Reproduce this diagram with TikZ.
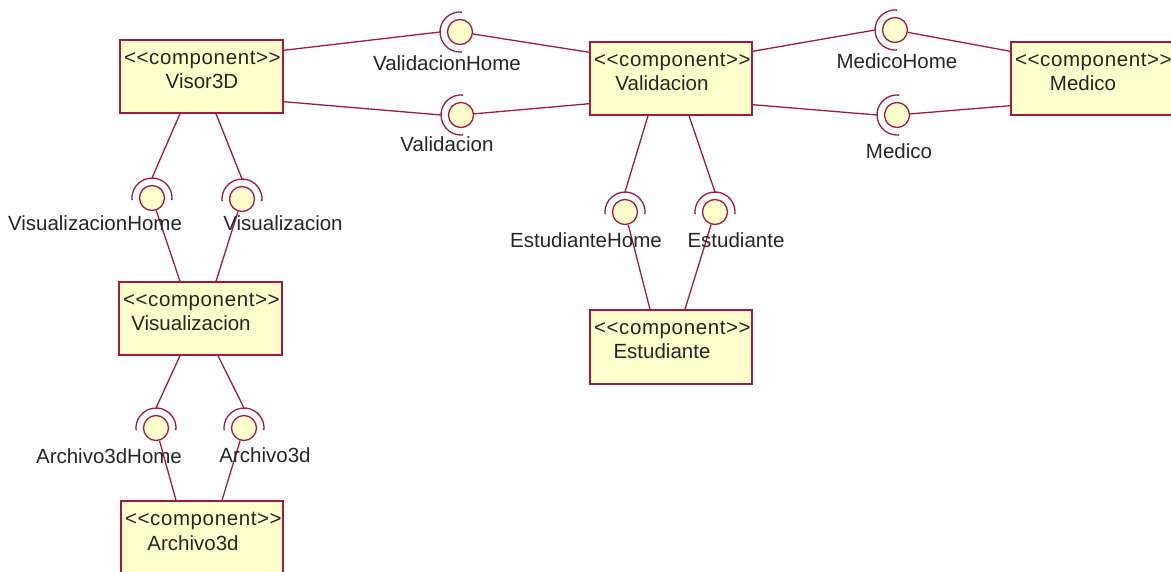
\documentclass[tikz,border=0pt]{standalone}
\usepackage{fontspec}
\newfontfamily\umlfont{Liberation Sans}
\newfontfamily\stereofont[LetterSpace=3]{Liberation Sans}
\usetikzlibrary{calc}
\definecolor{umlline}{RGB}{165,25,65}
\definecolor{umlfill}{RGB}{255,255,204}

% socket (required interface half-circle) around a ball node:
% #1 ball node, #2 direction the socket faces, #3 name of the socket apex
\newcommand\umlsocket[3]{%
  \draw[wire] ($(#1)+(#2-96:20)$) arc[start angle=#2-96, end angle=#2+96, radius=20];
  \coordinate (#3) at ($(#1)+(#2:20)$);}

\begin{document}
\begin{tikzpicture}[x=1pt,y=1pt,
  every node/.style={font=\umlfont\fontsize{20.5}{24}\selectfont, text=black!85},
  wire/.style={draw=umlline, line width=1.3pt},
  comp/.style={draw=umlline, fill=umlfill, line width=1.4pt, inner sep=0pt},
  ball/.style={circle, draw=umlline, fill=umlfill, line width=1.3pt, inner sep=0pt, minimum size=25pt},
  stereo/.style={anchor=base west, inner sep=0pt, font=\stereofont\fontsize{20.5}{24}\selectfont},
  cname/.style={anchor=base, inner sep=0pt},
  ilabel/.style={anchor=base, inner sep=0pt}]
\useasboundingbox (0,0) rectangle (1171,571);
\clip (0,0) rectangle (1171,571);

% components
\node[comp, minimum width=163pt, minimum height=73pt] (visor)   at (201.5,494.5) {};
\node[comp, minimum width=162pt, minimum height=73pt] (valid)   at (671,492.5) {};
\node[comp, minimum width=169pt, minimum height=73pt] (medico)  at (1095.5,492.5) {};
\node[comp, minimum width=163pt, minimum height=73pt] (visual)  at (200.5,252.5) {};
\node[comp, minimum width=162pt, minimum height=74pt] (estud)   at (671,224) {};
\node[comp, minimum width=162pt, minimum height=79pt] (archivo) at (202,30.5) {};

\foreach \c in {visor,valid,medico,visual,estud,archivo}
  \node[stereo] (\c-st) at ($(\c.north west)+(4.5,-25)$) {<<component>>};

\node[cname] (visor-nm)   at (202,482)  {Visor3D};
\node[cname] (valid-nm)   at (662,480)  {Validacion};
\node[cname] (medico-nm)  at (1083,480) {Medico};
\node[cname] (visual-nm)  at (191,240)  {Visualizacion};
\node[cname] (estud-nm)   at (662,212)  {Estudiante};
\node[cname] (archivo-nm) at (193,21)   {Archivo3d};

% provided interfaces (balls)
\node[ball] (bVH)  at (460,539) {};
\node[ball] (bV)   at (461,456) {};
\node[ball] (bMH)  at (895,541) {};
\node[ball] (bM)   at (897,456) {};
\node[ball] (bVzH) at (152,373) {};
\node[ball] (bVz)  at (242,372) {};
\node[ball] (bAH)  at (156,143) {};
\node[ball] (bA)   at (244,143) {};
\node[ball] (bEH)  at (625,359) {};
\node[ball] (bE)   at (715,359) {};

% required interfaces (sockets)
\umlsocket{bVH}{180}{sVH}
\umlsocket{bV}{180}{sV}
\umlsocket{bMH}{180}{sMH}
\umlsocket{bM}{180}{sM}
\umlsocket{bVzH}{90}{sVzH}
\umlsocket{bVz}{90}{sVz}
\umlsocket{bAH}{90}{sAH}
\umlsocket{bA}{90}{sA}
\umlsocket{bEH}{90}{sEH}
\umlsocket{bE}{90}{sE}

% connectors: requiring component -> socket, ball -> providing component
\draw[wire] ([yshift=-11pt]visor.north east) -- (sVH);
\draw[wire] (bVH) -- ([yshift=-11pt]valid.north west);
\draw[wire] ([yshift=12pt]visor.south east) -- (sV);
\draw[wire] (bV) -- ([yshift=12pt]valid.south west);
\draw[wire] ([yshift=-10pt]valid.north east) -- (sMH);
\draw[wire] (bMH) -- ([yshift=-10pt]medico.north west);
\draw[wire] ([yshift=11pt]valid.south east) -- (sM);
\draw[wire] (bM) -- ([yshift=10pt]medico.south west);

\draw[wire] ([xshift=-21.5pt]visor.south) -- (sVzH);
\draw[wire] (bVzH) -- ([xshift=-20.5pt]visual.north);
\draw[wire] ([xshift=14.5pt]visor.south) -- (sVz);
\draw[wire] (bVz) -- ([xshift=15.5pt]visual.north);

\draw[wire] ([xshift=-20.5pt]visual.south) -- (sAH);
\draw[wire] (bAH) -- ([xshift=-26pt]archivo.north);
\draw[wire] ([xshift=17.5pt]visual.south) -- (sA);
\draw[wire] (bA) -- ([xshift=20pt]archivo.north);

\draw[wire] ([xshift=-23pt]valid.south) -- (sEH);
\draw[wire] (bEH) -- ([xshift=-21pt]estud.north);
\draw[wire] ([xshift=18pt]valid.south) -- (sE);
\draw[wire] (bE) -- ([xshift=14pt]estud.north);

% interface names
\node[ilabel] (lVH)  at (447,500) {ValidacionHome};
\node[ilabel] (lV)   at (447,419) {Validacion};
\node[ilabel] (lMH)  at (897,502) {MedicoHome};
\node[ilabel] (lM)   at (899,412) {Medico};
\node[ilabel] (lVzH) at (95,340)  {VisualizacionHome};
\node[ilabel] (lVz)  at (283,340) {Visualizacion};
\node[ilabel] (lAH)  at (109,107) {Archivo3dHome};
\node[ilabel] (lA)   at (265,109) {Archivo3d};
\node[ilabel] (lEH)  at (586,323) {EstudianteHome};
\node[ilabel] (lE)   at (736,323) {Estudiante};
\end{tikzpicture}
\end{document}
